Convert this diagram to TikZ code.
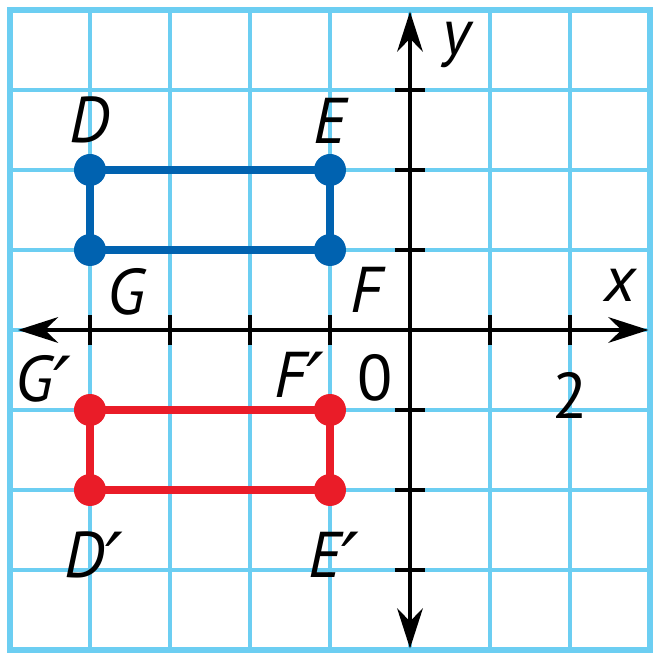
\documentclass[tikz,border=0pt]{standalone}
\usepackage{fontspec}
\setmainfont{PT Sans}
\newfontfamily\primefont{DejaVu Sans}
\newcommand{\pr}{\raisebox{-4pt}{\primefont\itshape\fontsize{28}{28}\selectfont ′}}
\definecolor{gridcyan}{RGB}{108,206,242}
\definecolor{ptblue}{RGB}{0,98,176}
\definecolor{ptred}{RGB}{234,28,40}
\usetikzlibrary{arrows.meta,positioning}

\begin{document}
\begin{tikzpicture}[
  gridline/.style={gridcyan,line width=1.1pt},
  axis/.style={{Stealth[length=5mm,width=3.2mm]}-{Stealth[length=5mm,width=3.2mm]},line width=1.6pt,black},
  tick/.style={line width=1.1pt,black},
  dot/.style={circle,inner sep=0pt,minimum size=4mm},
  lbl/.style={font=\fontsize{23}{26}\selectfont\itshape},
  num/.style={font=\fontsize{23}{26}\selectfont}
]
  \useasboundingbox (-5.125,-4.1) rectangle (3.075,4.125);

  % Grid
  \draw[gridline] (-5,-4) grid (3,4);
  \draw[gridcyan,line width=2.4pt] (-5,-4) rectangle (3,4);

  % Axes
  \coordinate (xl) at (-4.9,0);
  \coordinate (xr) at (2.98,0);
  \coordinate (yb) at (0,-3.98);
  \coordinate (yt) at (0,3.98);
  \draw[axis] (xl) -- (xr);
  \draw[axis] (yb) -- (yt);
  \foreach \i in {-4,...,2} { \ifnum\i=0\else \draw[tick] (\i,-0.19) -- (\i,0.19); \fi }
  \foreach \j in {-3,...,3} { \ifnum\j=0\else \draw[tick] (-0.19,\j) -- (0.19,\j); \fi }
  \node[lbl] (xlab) at (2.63,0.56) {x};
  \node[lbl] (ylab) at (0.58,3.56) {y};
  \node[num] (zero) at (-0.44,-0.6) {0};
  \node[num] (two) at (2,-0.82) {2};

  % Original rectangle DEFG
  \node[dot,fill=ptblue] (D) at (-4,2) {};
  \node[dot,fill=ptblue] (E) at (-1,2) {};
  \node[dot,fill=ptblue] (F) at (-1,1) {};
  \node[dot,fill=ptblue] (G) at (-4,1) {};
  \draw[ptblue,line width=2.6pt] (D.center) -- (E.center) -- (F.center) -- (G.center) -- cycle;

  % Image rectangle D'E'F'G'
  \node[dot,fill=ptred] (D') at (-4,-2) {};
  \node[dot,fill=ptred] (E') at (-1,-2) {};
  \node[dot,fill=ptred] (F') at (-1,-1) {};
  \node[dot,fill=ptred] (G') at (-4,-1) {};
  \draw[ptred,line width=2.6pt] (D'.center) -- (E'.center) -- (F'.center) -- (G'.center) -- cycle;

  % Labels
  \node[lbl] (Dl) at (-4,2.62) {D};
  \node[lbl] (El) at (-1,2.62) {E};
  \node[lbl] (Fl) at (-0.55,0.5) {F};
  \node[lbl] (Gl) at (-3.55,0.48) {G};
  \node[lbl] (D'l) at (-3.95,-2.88) {D\pr};
  \node[lbl] (E'l) at (-0.95,-2.88) {E\pr};
  \node[lbl] (F'l) at (-1.38,-0.63) {F\pr};
  \node[lbl] (G'l) at (-4.58,-0.68) {G\pr};
\end{tikzpicture}
\end{document}
